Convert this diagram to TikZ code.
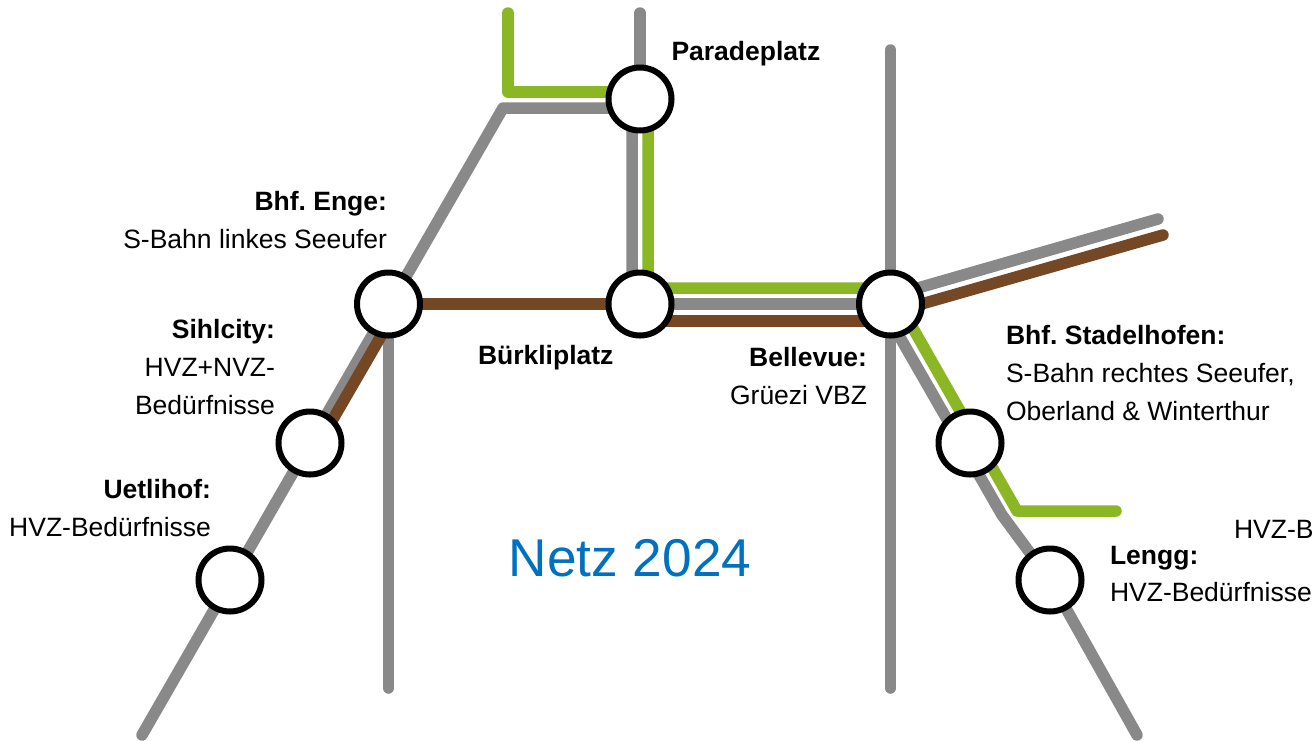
\documentclass[tikz,border=0pt]{standalone}
\usepackage{fontspec}
\setmainfont{Liberation Sans}
\frenchspacing
\usetikzlibrary{positioning}
\definecolor{linegray}{HTML}{898989}
\definecolor{linegreen}{HTML}{8AB723}
\definecolor{linebrown}{HTML}{754825}
\definecolor{titleblue}{HTML}{0070C0}
\tikzset{
    station/.style={circle, draw=black, fill=white, line width=6pt, minimum size=63pt, inner sep=0pt, outer sep=0pt},
    tram/.style={line width=11.5pt, line cap=round, line join=round},
    graytram/.style={tram, draw=linegray},
    greentram/.style={tram, draw=linegreen},
    browntram/.style={tram, draw=linebrown},
    stoplabel/.style={inner sep=0pt, outer sep=0pt, text=black, font=\fontsize{26.5}{37.8}\selectfont},
    leftlabel/.style={stoplabel, anchor=east, align=right},
    rightlabel/.style={stoplabel, anchor=west, align=left}
}
\begin{document}
\begin{tikzpicture}[x=1pt, y=-1pt]
    \useasboundingbox (0,0) rectangle (1314,740);
    \coordinate (graysw) at (142,735);
    \coordinate (graybend) at (503,108);
    \coordinate (paradesw) at (632,108);
    \coordinate (paradenorth) at (640,13);
    \coordinate (burklinw) at (632,304);
    \coordinate (engesouth) at (388.5,688);
    \coordinate (bellevuenorth) at (890.5,50);
    \coordinate (bellevuesouth) at (890.5,688);
    \coordinate (grayne) at (1158,219);
    \coordinate (bellevuene) at (890,296);
    \coordinate (bellevuese) at (890,320);
    \coordinate (graybendse) at (1002,515);
    \coordinate (lenggbend) at (1050,580);
    \coordinate (grayse) at (1137,735);
    \coordinate (greennorth) at (508,13);
    \coordinate (greenbend) at (508,92);
    \coordinate (paradew) at (640,92);
    \coordinate (paradee) at (648,99);
    \coordinate (greenjoin) at (648,288);
    \coordinate (bellevuenw) at (890,288);
    \coordinate (greenbendse) at (1017,511);
    \coordinate (greeneast) at (1116,511);
    \coordinate (burklisw) at (640,321);
    \coordinate (bellevuesw) at (890,321);
    \coordinate (brownne) at (1163,235);
    \coordinate (bellevuee) at (890,313);
    \coordinate (engese) at (388,324);
    \coordinate (sihlne) at (318,445);

    \draw[graytram] (graysw) -- (graybend) -- (paradesw) -- (burklinw);
    \draw[graytram] (paradenorth) -- (640,99);
    \draw[graytram] (388.5,304) -- (engesouth);
    \draw[graytram] (bellevuenorth) -- (bellevuesouth);
    \draw[graytram] (640,304) -- (890,304);
    \draw[graytram] (bellevuene) -- (grayne);
    \draw[graytram] (bellevuese) -- (graybendse) -- (lenggbend) -- (grayse);
    \draw[greentram] (greennorth) -- (greenbend) -- (paradew);
    \draw[greentram] (paradee) -- (greenjoin) -- (bellevuenw) -- (greenbendse) -- (greeneast);
    \draw[browntram] (388,304) -- (640,304);
    \draw[browntram] (burklisw) -- (bellevuesw);
    \draw[browntram] (bellevuee) -- (brownne);
    \draw[browntram] (engese) -- (sihlne);

    \node[station] (parade) at (640,99) {};
    \node[station] (burkli) at (640,304) {};
    \node[station] (bellevue) at (890.5,304) {};
    \node[station] (enge) at (388.5,304) {};
    \node[station] (sihlcity) at (310,443) {};
    \node[station] (uetlihof) at (230,580) {};
    \node[station] (stadelhofen) at (970,443) {};
    \node[station] (lengg) at (1050,580) {};

    \node[rightlabel] (paradelabel) at (671.5,54) {\textbf{Paradeplatz}};
    \node[leftlabel] (engelabel) at (387,220) {\textbf{Bhf. Enge:}\\S-Bahn linkes Seeufer};
    \node[leftlabel] (sihlcitylabel) at (275,367) {\textbf{Sihlcity:}\\HVZ+NVZ-\\Bedürfnisse};
    \node[leftlabel] (uetlihoflabel) at (211,508) {\textbf{Uetlihof:}\\HVZ-Bedürfnisse};
    \node[rightlabel] (burklilabel) at (478,358) {\textbf{Bürkliplatz}};
    \node[leftlabel] (bellevuelabel) at (867,376) {\textbf{Bellevue:}\\Grüezi VBZ};
    \node[rightlabel] (stadelhofenlabel) at (1006,373) {\textbf{Bhf. Stadelhofen:}\\S-Bahn rechtes Seeufer,\\Oberland \& Winterthur};
    \node[rightlabel] (lengglabel) at (1110,574) {\textbf{Lengg:}\\HVZ-Bedürfnisse};
    \node[rightlabel] (cutlabel) at (1234,529) {HVZ-B};
    \node[inner sep=0pt, text=titleblue, font=\fontsize{53.2}{60}\selectfont] (title) at (630,558) {Netz 2024};
\end{tikzpicture}
\end{document}
